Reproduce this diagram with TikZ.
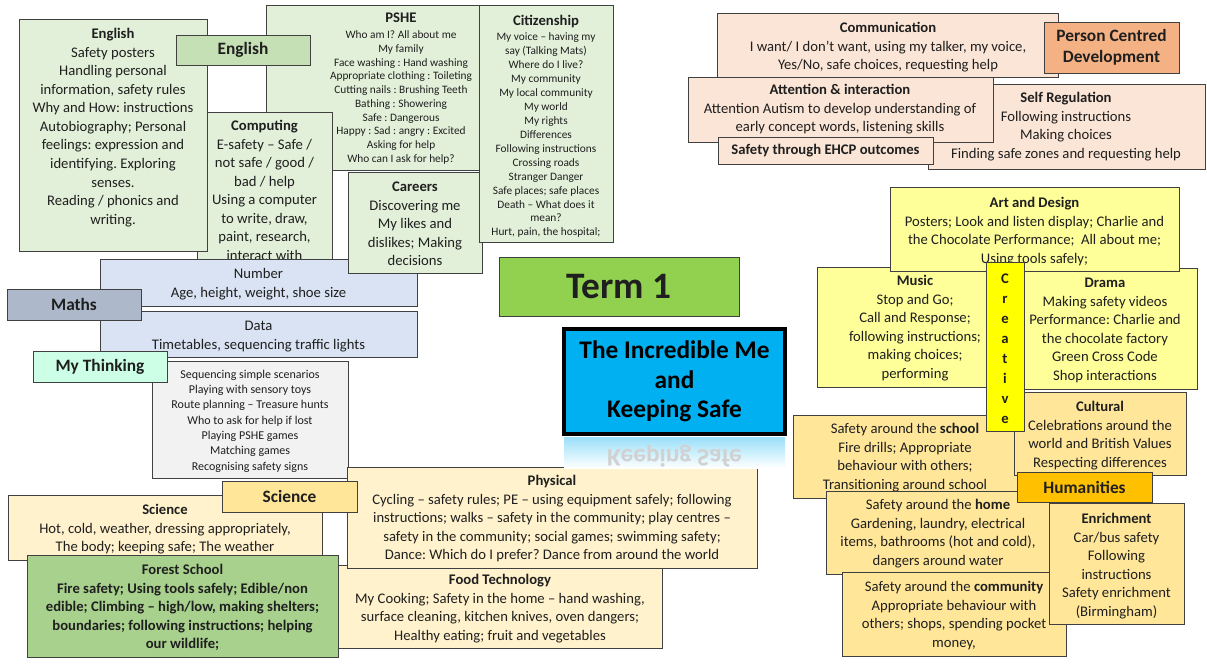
\documentclass[tikz,border=0pt]{standalone}
\usepackage{fontspec}
\setmainfont{Carlito}
\frenchspacing
\definecolor{lgreen}{HTML}{E2F0D9}
\definecolor{mgreen}{HTML}{C5E0B4}
\definecolor{lblue}{HTML}{DAE3F3}
\definecolor{mathsc}{HTML}{ADB9CA}
\definecolor{mint}{HTML}{CCFFE6}
\definecolor{lgrey}{HTML}{F2F2F2}
\definecolor{cream}{HTML}{FFF2CC}
\definecolor{gold}{HTML}{FFE699}
\definecolor{forest}{HTML}{A9D18E}
\definecolor{termg}{HTML}{92D050}
\definecolor{skyb}{HTML}{00B0F0}
\definecolor{peach}{HTML}{FBE5D6}
\definecolor{peachd}{HTML}{F4B183}
\definecolor{lyellow}{HTML}{FFFF99}
\definecolor{yel}{HTML}{FFFF00}
\definecolor{amber}{HTML}{FFC000}
\definecolor{edge}{HTML}{404040}
\definecolor{ink}{HTML}{1F1F1F}
\tikzset{
  bx/.style={draw=edge, line width=0.6pt, inner sep=0pt, outer sep=0pt, text=ink},
  tA/.style={align=center, inner sep=0pt, anchor=north, text=ink, font=\fontsize{11}{13.9}\selectfont},
  tS/.style={align=center, inner sep=0pt, anchor=north, text=ink, font=\fontsize{8.5}{10.3}\selectfont},
  tC/.style={align=center, inner sep=0pt, anchor=north, text=ink, font=\fontsize{8.5}{10.45}\selectfont},
  tM/.style={align=center, inner sep=0pt, anchor=north, text=ink, font=\fontsize{9}{11.5}\selectfont},
  lab/.style={font=\fontsize{13}{15}\selectfont\bfseries},
}
\newcommand\bxx[6]{\node[bx,fill=#6,anchor=north west,minimum width={0.75pt*(#4-#2)},minimum height={0.75pt*(#5-#3)}] (#1) at (#2,#3) {};}
\newcommand\lbx[8]{\node[bx,fill=#6,minimum width={0.75pt*(#4-#2)},minimum height={0.75pt*(#5-#3)},#8] (#1) at ({(#2+#4)/2},{(#3+#5)/2}) {#7};}
\begin{document}
\begin{tikzpicture}[x=0.75pt,y=-0.75pt]
\useasboundingbox (0,0) rectangle (1207,664);
\fill[white] (0,0) rectangle (1207,664);

% ---------- top-left cluster ----------
\bxx{pshe}{266}{5}{480}{170}{lgreen}
\node[tS] (pshe-t) at (401,13) {\strut{\fontsize{11}{13.9}\selectfont\bfseries PSHE}\\[1.5pt]
Who am I? All about me\\My family\\Face washing : Hand washing\\Appropriate clothing : Toileting\\Cutting nails : Brushing Teeth\\Bathing : Showering\\Safe : Dangerous\\Happy : Sad : angry : Excited\\Asking for help\\Who can I ask for help?};

\bxx{comp}{197}{112}{332}{262}{lgreen}
\node[tA] (comp-t) at (264.5,117.5) {\strut\textbf{Computing}\\E-safety -- Safe /\\not safe / good /\\bad / help\\Using a computer\\to write, draw,\\paint, research,\\interact with};

\bxx{eng}{19}{19}{207}{251}{lgreen}
\node[tA] (eng-t) at (113,25.5) {\strut\textbf{English}\\Safety posters\\Handling personal\\information, safety rules\\Why and How: instructions\\Autobiography; Personal\\feelings: expression and\\identifying. Exploring\\senses.\\Reading / phonics and\\writing.};

\lbx{englab}{176}{35}{310}{65}{mgreen}{English}{lab}

\bxx{num}{100}{259}{417}{306}{lblue}
\node[tA] (num-t) at (258.5,265.5) {\strut Number\\Age, height, weight, shoe size};
\bxx{data}{100}{311}{417}{357}{lblue}
\node[tA] (data-t) at (258.5,317.5) {\strut Data\\Timetables, sequencing traffic lights};
\lbx{maths}{7}{289}{141}{320}{mathsc}{Maths}{lab}

\bxx{car}{348}{172}{482}{273}{lgreen}
\node[tA] (car-t) at (415,178.5) {\strut\textbf{Careers}\\Discovering me\\My likes and\\dislikes; Making\\decisions};

\bxx{cit}{479}{5}{613}{242}{lgreen}
\node[tC] (cit-t) at (546,15) {\strut{\fontsize{11}{13.9}\selectfont\bfseries Citizenship}\\[1pt]
My voice -- having my\\say (Talking Mats)\\Where do I live?\\My community\\My local community\\My world\\My rights\\Differences\\Following instructions\\Crossing roads\\Stranger Danger\\Safe places; safe places\\Death -- What does it\\mean?\\Hurt, pain, the hospital;};

% ---------- my thinking ----------
\bxx{think}{152}{361}{348}{478}{lgrey}
\node[tM] (think-t) at (250,367) {\strut Sequencing simple scenarios\\Playing with sensory toys\\Route planning -- Treasure hunts\\Who to ask for help if lost\\Playing PSHE games\\Matching games\\Recognising safety signs};
\lbx{thinklab}{33}{351}{167}{382}{mint}{My Thinking}{lab}

% ---------- bottom-left ----------
\bxx{sci}{8}{495}{322}{560}{cream}
\node[tA] (sci-t) at (165,501.5) {\strut\textbf{Science}\\Hot, cold, weather, dressing appropriately,\\The body; keeping safe; The weather};

\bxx{food}{338}{565}{662}{648}{cream}
\node[tA] (food-t) at (500,571.5) {\strut\textbf{Food Technology}\\My Cooking; Safety in the home -- hand washing,\\surface cleaning, kitchen knives, oven dangers;\\Healthy eating; fruit and vegetables};

\bxx{fs}{27}{555}{338}{657}{forest}
\node[tA,font=\fontsize{11}{13.9}\selectfont\bfseries] (fs-t) at (182.5,561.5) {\strut Forest School\\Fire safety; Using tools safely; Edible/non\\edible; Climbing -- high/low, making shelters;\\boundaries; following instructions; helping\\our wildlife;};

\bxx{phys}{347}{467}{757}{568}{cream}
\node[tA] (phys-t) at (552,472.5) {\strut\textbf{Physical}\\Cycling -- safety rules; PE -- using equipment safely; following\\instructions; walks -- safety in the community; play centres --\\safety in the community; social games; swimming safety;\\Dance: Which do I prefer? Dance from around the world};

\lbx{scilab}{222}{481}{357}{512}{gold}{Science}{lab}

% ---------- centre ----------
\lbx{term}{499}{257}{739}{316}{termg}{Term 1}{font=\fontsize{28}{32}\selectfont\bfseries}

\begin{scope}
\clip (564,437) rectangle (785,468);
\shade[top color=skyb!40, bottom color=white] (564,437) rectangle (785,468);
\node[yscale=-1, text=black!18, font=\fontsize{19}{22}\selectfont\bfseries] (refl) at (674.5,456) {Keeping Safe};
\end{scope}
\node[draw=black, line width=3pt, fill=skyb, inner sep=0pt, minimum width={0.75pt*221}, minimum height={0.75pt*105}, align=center, text=black, font=\fontsize{19}{22.1}\selectfont\bfseries] (title) at (674.5,381.5) {The Incredible Me\\and\\Keeping Safe};

% ---------- person centred development ----------
\bxx{comm}{717}{13}{1058}{77}{peach}
\node[tA] (comm-t) at (888,19.5) {\strut\textbf{Communication}\\I want/ I don’t want, using my talker, my voice,\\Yes/No, safe choices, requesting help};
\lbx{pcd}{1044}{22}{1179}{73}{peachd}{Person Centred\\Development}{font=\fontsize{13}{16}\selectfont\bfseries,align=center}
\bxx{selfr}{928}{84}{1205}{169}{peach}
\node[tA] (selfr-t) at (1066,89.5) {\strut\textbf{Self Regulation}\\Following instructions\\Making choices\\Finding safe zones and requesting help};
\bxx{att}{688}{77}{993}{142}{peach}
\node[tA] (att-t) at (840,81.5) {\strut\textbf{Attention \& interaction}\\Attention Autism to develop understanding of\\early concept words, listening skills};
\lbx{ehcp}{718}{137}{933}{164}{peach}{Safety through EHCP outcomes}{font=\fontsize{11}{13.9}\selectfont\bfseries}

% ---------- creative ----------
\bxx{music}{817}{267}{1013}{387}{lyellow}
\node[tA] (music-t) at (915,272.5) {\strut\textbf{Music}\\Stop and Go;\\Call and Response;\\following instructions;\\making choices;\\performing};
\bxx{drama}{1013}{268}{1197}{389}{lyellow}
\node[tA] (drama-t) at (1105,274.5) {\strut\textbf{Drama}\\Making safety videos\\Performance: Charlie and\\the chocolate factory\\Green Cross Code\\Shop interactions};
\bxx{art}{890}{187}{1179}{271}{lyellow}
\node[tA] (art-t) at (1034.5,194.5) {\strut\textbf{Art and Design}\\Posters; Look and listen display; Charlie and\\the Chocolate Performance;\ \ All about me;\\Using tools safely;};

% ---------- humanities ----------
\bxx{school}{793}{415}{1018}{498}{gold}
\node[tA] (school-t) at (905,420.5) {\strut Safety around the \textbf{school}\\Fire drills; Appropriate\\behaviour with others;\\Transitioning around school};
\bxx{cult}{1014}{392}{1186}{475}{gold}
\node[tA] (cult-t) at (1100,398.5) {\strut\textbf{Cultural}\\Celebrations around the\\world and British Values\\Respecting differences};

\bxx{creat}{986}{262}{1024}{431}{yel}
\node[tA, font=\fontsize{11}{15}\selectfont\bfseries] (creat-t) at (1005,269) {\strut C\\r\\e\\a\\t\\i\\v\\e};

\bxx{home}{826}{491}{1050}{574}{gold}
\node[tA] (home-t) at (938,496.5) {\strut Safety around the \textbf{home}\\Gardening, laundry, electrical\\items, bathrooms (hot and cold),\\dangers around water};
\lbx{hum}{1017}{472}{1152}{502}{amber}{Humanities}{lab}
\bxx{comty}{842}{572}{1066}{656}{gold}
\node[tA] (comty-t) at (954,578.5) {\strut Safety around the \textbf{community}\\Appropriate behaviour with\\others; shops, spending pocket\\money,};
\bxx{enr}{1049}{503}{1184}{624}{gold}
\node[tA] (enr-t) at (1116.5,510.5) {\strut\textbf{Enrichment}\\Car/bus safety\\Following\\instructions\\Safety enrichment\\(Birmingham)};
\end{tikzpicture}
\end{document}
